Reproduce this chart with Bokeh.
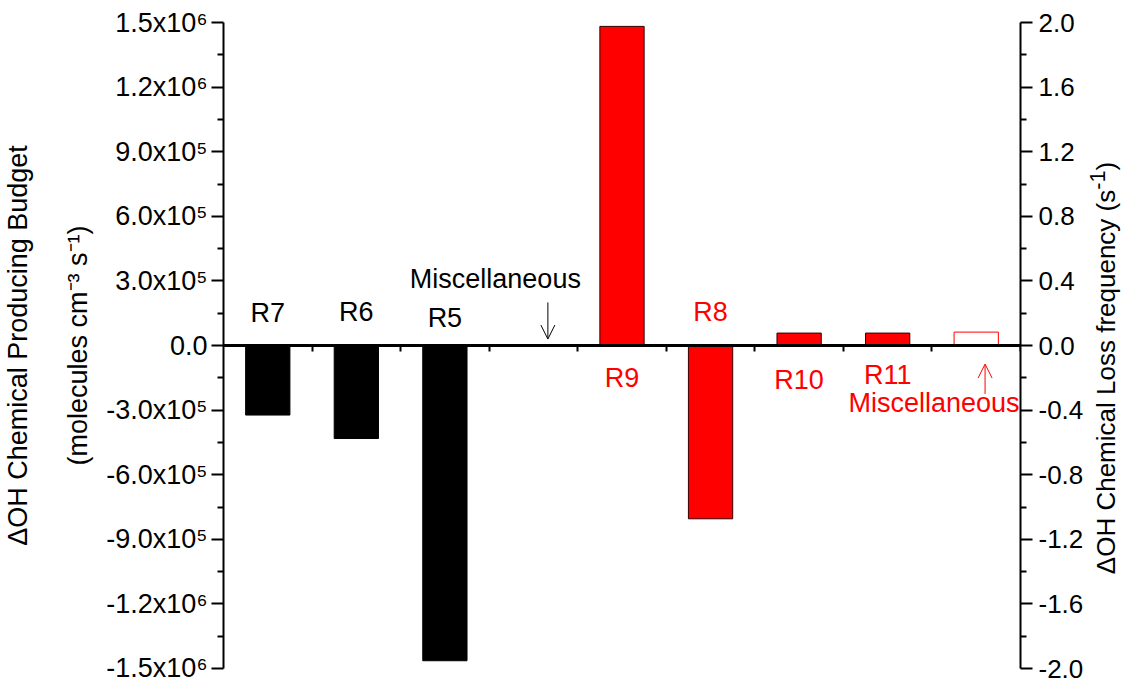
from bokeh.plotting import figure
from bokeh.layouts import row
from bokeh.models import (Range1d, LinearAxis, FixedTicker, ColumnDataSource, LabelSet, Label,
                          Arrow, OpenHead, CustomJSTickFormatter, Div)
from bokeh.core.properties import value
from bokeh.embed import file_html
from bokeh.resources import INLINE

# ---------------- data ----------------
categories = ["R7", "R6", "R5", "Miscellaneous", "R9", "R8", "R10", "R11", "Miscellaneous"]

# production budget (left axis, molecules cm-3 s-1)
prod_names = ["R7", "R6", "R5", "Miscellaneous"]
prod_values = [-3.23e5, -4.32e5, -1.464e6, 0.0]

# loss frequency (right axis, s-1)
loss_names = ["R9", "R8", "R10", "R11"]
loss_values = [1.976, -1.073, 0.077, 0.077]
misc_loss_name = "Miscellaneous"
misc_loss_value = 0.083

left_ticks = [-1.5e6, -1.2e6, -9.0e5, -6.0e5, -3.0e5, 0.0, 3.0e5, 6.0e5, 9.0e5, 1.2e6, 1.5e6]
left_tick_labels = ["-1.5x10⁶", "-1.2x10⁶", "-9.0x10⁵", "-6.0x10⁵", "-3.0x10⁵", "0.0",
                    "3.0x10⁵", "6.0x10⁵", "9.0x10⁵", "1.2x10⁶", "1.5x10⁶"]
right_ticks = [-2.0, -1.6, -1.2, -0.8, -0.4, 0.0, 0.4, 0.8, 1.2, 1.6, 2.0]
right_tick_labels = ["-2.0", "-1.6", "-1.2", "-0.8", "-0.4", "0.0", "0.4", "0.8", "1.2", "1.6", "2.0"]

left_title = "ΔOH Chemical Producing Budget\n(molecules cm⁻³ s⁻¹)"
right_title_html = "ΔOH Chemical Loss frequency (s<sup>-1</sup>)"

# label placement (annotation positions, not data)
prod_label_y = [1.50e5, 1.55e5, 1.27e5]
misc_prod_label_pos = (3.57, 3.09e5)
loss_label_y = [-0.20, 0.206, -0.212, -0.182]
misc_loss_label_pos = (9.49, -0.358)

FONT = "Liberation Sans"
FS = "27px"

n = len(categories)
xs = list(range(1, n + 1))
prod_x = xs[:4]
loss_x = xs[4:8]
misc_loss_x = xs[8]

FIG_W, DIV_W, H = 1086, 33, 682

p = figure(width=FIG_W, height=H, output_backend="svg", toolbar_location=None,
           x_range=Range1d(0.5, n + 0.5), y_range=Range1d(-1.5e6, 1.5e6),
           x_axis_location=None, min_border_left=222, min_border_right=63,
           min_border_top=22, min_border_bottom=14)
p.extra_y_ranges = {"right": Range1d(-2.0, 2.0)}
p.grid.visible = False
p.outline_line_color = None
p.background_fill_color = "white"
p.border_fill_color = "white"

# ---- left axis ----
ya = p.yaxis[0]
ya.ticker = FixedTicker(ticks=left_ticks,
                        minor_ticks=[(a + b) / 2 for a, b in zip(left_ticks[:-1], left_ticks[1:])])
ya.major_label_overrides = {t: l for t, l in zip(left_ticks, left_tick_labels)}
ya.axis_label = left_title

# ---- right axis ----
ra = LinearAxis(y_range_name="right")
ra.ticker = FixedTicker(ticks=right_ticks,
                        minor_ticks=[round((a + b) / 2, 2) for a, b in zip(right_ticks[:-1], right_ticks[1:])])
ra.major_label_overrides = {t: l for t, l in zip(right_ticks, right_tick_labels)}
p.add_layout(ra, "right")

for ax in (ya, ra):
    ax.axis_line_width = 2
    ax.axis_line_color = "black"
    ax.major_tick_out = 12
    ax.major_tick_in = 0
    ax.minor_tick_out = 6
    ax.minor_tick_in = 0
    ax.major_tick_line_width = 2
    ax.minor_tick_line_width = 2
    ax.major_label_text_font = FONT
    ax.major_label_text_font_size = FS
    ax.major_label_text_color = "black"
    ax.major_label_standoff = 4
    ax.axis_label_text_font = FONT
    ax.axis_label_text_font_size = FS
    ax.axis_label_text_font_style = "normal"
    ax.axis_label_text_color = "black"
ya.axis_label_standoff = 10
ya.axis_label_text_line_height = 2.0
ra.major_label_text_font_size = "26px"
ra.major_label_standoff = 6

# ---- x axis at y = 0 ----
xa = LinearAxis(fixed_location=0)
xa.ticker = FixedTicker(ticks=[x + 0.5 for x in xs])
xa.formatter = CustomJSTickFormatter(code="return ''")
xa.axis_line_width = 3
xa.axis_line_color = "black"
xa.major_tick_in = 6
xa.major_tick_out = 0
xa.major_tick_line_width = 2
xa.minor_tick_in = 0
xa.minor_tick_out = 0
xa.major_label_standoff = 0
p.add_layout(xa, "above")

# ---- bars ----
prod_src = ColumnDataSource(dict(x=prod_x, top=prod_values))
p.vbar(x="x", top="top", bottom=0, width=0.5, source=prod_src,
       fill_color="black", line_color="black", line_width=1)

loss_src = ColumnDataSource(dict(x=loss_x, top=loss_values))
p.vbar(x="x", top="top", bottom=0, width=0.5, source=loss_src, y_range_name="right",
       fill_color="#ff0000", line_color="#330000", line_width=1)

misc_src = ColumnDataSource(dict(x=[misc_loss_x], top=[misc_loss_value]))
p.vbar(x="x", top="top", bottom=0, width=0.5, source=misc_src, y_range_name="right",
       fill_color="white", line_color="#ff0000", line_width=1)

# ---- labels ----
blk_src = ColumnDataSource(dict(x=prod_x[:3] + [misc_prod_label_pos[0]],
                                y=prod_label_y + [misc_prod_label_pos[1]],
                                text=prod_names[:3] + [prod_names[3]]))
p.add_layout(LabelSet(x="x", y="y", text="text", source=blk_src, text_align="center",
                      text_baseline="middle", text_font=value(FONT), text_font_size=value(FS),
                      text_color="black"))

red_src = ColumnDataSource(dict(x=loss_x, y=loss_label_y, text=loss_names))
p.add_layout(LabelSet(x="x", y="y", text="text", source=red_src, y_range_name="right",
                      text_align="center", text_baseline="middle", text_font=value(FONT),
                      text_font_size=value(FS), text_color="#ff0000"))
p.add_layout(Label(x=misc_loss_label_pos[0], y=misc_loss_label_pos[1], text=misc_loss_name,
                   y_range_name="right", text_align="right", text_baseline="middle",
                   text_font=FONT, text_font_size=FS, text_color="#ff0000"))

# ---- arrows ----
p.add_layout(Arrow(end=OpenHead(size=14, line_width=1, line_color="black"),
                   x_start=4.163, y_start=2.0e5, x_end=4.163, y_end=0.3e5,
                   line_width=1, line_color="black"))
p.add_layout(Arrow(end=OpenHead(size=14, line_width=1, line_color="#ff0000"),
                   x_start=9.1, y_start=-0.30, x_end=9.1, y_end=-0.115,
                   line_width=1, line_color="#ff0000", y_range_name="right"))

# ---- right-hand axis title (reads bottom-to-top) ----
div_html = (
    f'<div style="position:relative;width:{DIV_W}px;height:{H}px;">'
    f'<div style="position:absolute;left:{DIV_W // 2 + 2}px;top:368px;'
    'transform:translate(-50%,-50%) rotate(-90deg);white-space:nowrap;'
    f"font-family:'{FONT}';font-size:26px;color:black;line-height:1.3;\">"
    f'{right_title_html}</div></div>'
)
d = Div(text=div_html, width=DIV_W, height=H, margin=(0, 0, 0, 0))

layout = row(p, d, spacing=0)
open("out.html", "w").write(file_html(layout, INLINE))
